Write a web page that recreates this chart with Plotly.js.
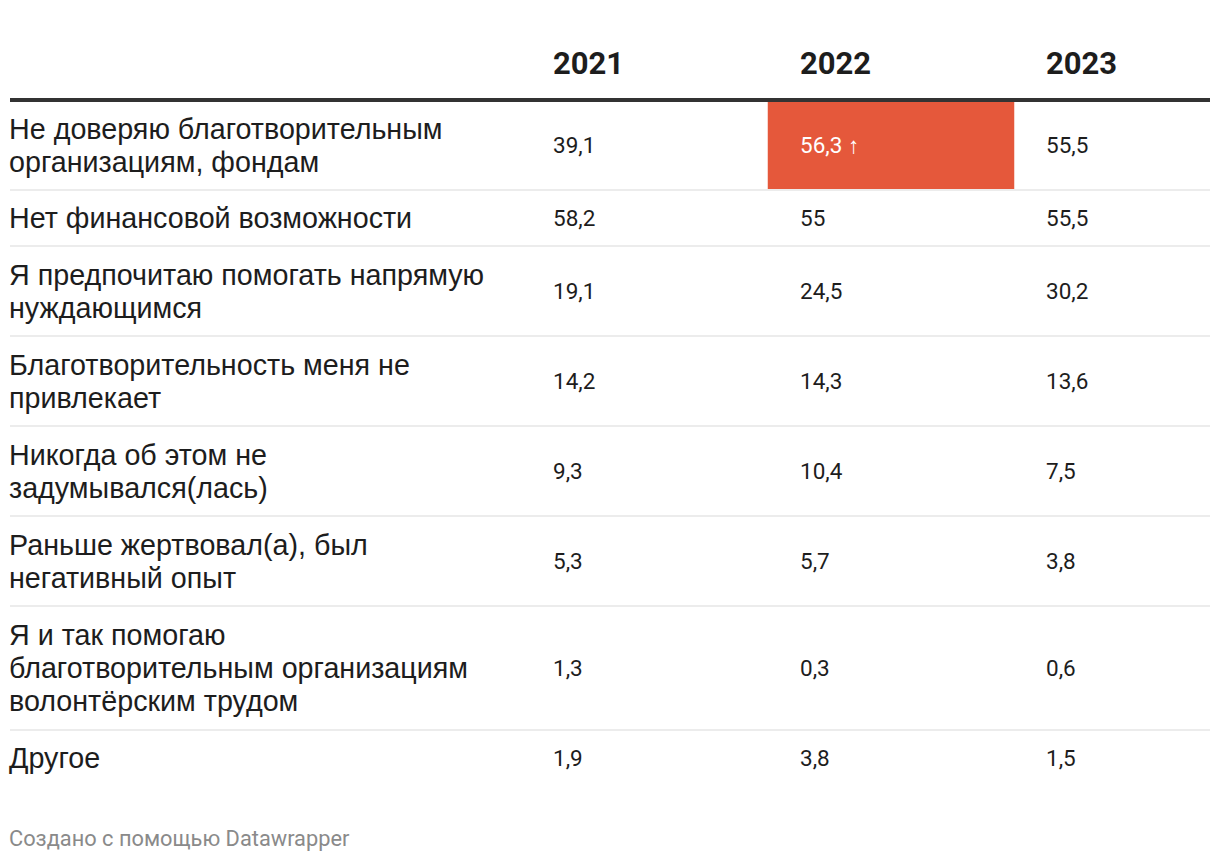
<!DOCTYPE html>
<html><head><meta charset="utf-8">
<script src="https://cdn.plot.ly/plotly-3.0.1.min.js"></script>
<style>html,body{margin:0;padding:0;background:#fff}#chart{width:1220px;height:862px}</style>
</head><body><div id="chart"></div>
<script>
// ---- data ----
const categories = [
  'Не доверяю благотворительным<br>организациям, фондам',
  'Нет финансовой возможности',
  'Я предпочитаю помогать напрямую<br>нуждающимся',
  'Благотворительность меня не<br>привлекает',
  'Никогда об этом не<br>задумывался(лась)',
  'Раньше жертвовал(а), был<br>негативный опыт',
  'Я и так помогаю<br>благотворительным организациям<br>волонтёрским трудом',
  'Другое'
];
const years = ['2021', '2022', '2023'];
const values2021 = [39.1, 58.2, 19.1, 14.2, 9.3, 5.3, 1.3, 1.9];
const values2022 = [56.3, 55, 24.5, 14.3, 10.4, 5.7, 0.3, 3.8];
const values2023 = [55.5, 55.5, 30.2, 13.6, 7.5, 3.8, 0.6, 1.5];
const highlightRow = 0;      // index in categories
const highlightYear = '2022';
const highlightMark = ' ↑';
const footerText = 'Создано с помощью Datawrapper';

// ---- layout helpers ----
const series = [values2021, values2022, values2023];
const LINE = 34, PAD = 22, TEXT_LINE = 33;
const rowHeights = categories.map(c => c.split('<br>').length * LINE + PAD);
const rowTops = [];
let acc = 0;
rowHeights.forEach(h => { rowTops.push(acc); acc += h; });
const total = acc;
const fmt = v => String(v).replace('.', ',');

const NUM_FONT = 'Roboto, "Noto Sans", sans-serif';
const LABEL_FONT = '"Liberation Sans", Arial, sans-serif';
const annotations = [];
const shapes = [];

// header
years.forEach((y, i) => {
  annotations.push({
    x: i + 1 - 0.5, y: -37, xref: 'x', yref: 'y', xanchor: 'left', yanchor: 'middle',
    xshift: 30, text: y, showarrow: false,
    font: {family: NUM_FONT, size: 31, color: '#1d1d1d', weight: 700}
  });
});

// rows
categories.forEach((c, r) => {
  const yc = rowTops[r] + rowHeights[r] / 2;
  const lines = c.split('<br>');
  lines.forEach((ln, k) => {
    annotations.push({
      x: 0, y: yc + (k - (lines.length - 1) / 2) * TEXT_LINE, xref: 'paper', yref: 'y',
      xanchor: 'left', yanchor: 'middle', align: 'left', xshift: -3,
      text: ln, showarrow: false,
      font: {family: LABEL_FONT, size: 28.7, color: '#1d1d1d'}
    });
  });
  series.forEach((s, i) => {
    const hl = (r === highlightRow && years[i] === highlightYear);
    annotations.push({
      x: i + 1 - 0.5, y: yc, xref: 'x', yref: 'y', xanchor: 'left', yanchor: 'middle',
      xshift: 30, text: fmt(s[r]) + (hl ? highlightMark : ''), showarrow: false,
      font: {family: NUM_FONT, size: 22.5, color: hl ? '#ffffff' : '#1d1d1d'}
    });
  });
  if (r > 0) {
    shapes.push({type: 'line', xref: 'paper', yref: 'y', x0: 0, x1: 1, y0: rowTops[r], y1: rowTops[r],
      line: {color: '#ececec', width: 2}});
  }
});

// thick header rule
shapes.push({type: 'line', xref: 'paper', yref: 'y', x0: 0, x1: 1, y0: 0, y1: 0,
  line: {color: '#333333', width: 4}});

// footer (below the plot area)
annotations.push({
  x: 0, y: 0, xref: 'paper', yref: 'paper', xanchor: 'left', yanchor: 'middle', xshift: -3,
  yshift: -(838 - 786), text: footerText, showarrow: false,
  font: {family: NUM_FONT, size: 21.8, color: '#8a8a8a'}
});

// highlighted cell as a bar
const hc = years.indexOf(highlightYear) + 1;
const traces = [{
  type: 'bar', x: [hc], base: [rowTops[highlightRow]], y: [rowHeights[highlightRow]],
  width: [1], marker: {color: '#e5583b', line: {width: 0}}, hoverinfo: 'skip', showlegend: false
}];

const layout = {
  width: 1220, height: 862,
  margin: {l: 10, r: 10, t: 32, b: 76},
  paper_bgcolor: '#ffffff', plot_bgcolor: '#ffffff',
  xaxis: {range: [2 - 881 / 246.5, 2 - 881 / 246.5 + 1200 / 246.5], visible: false, fixedrange: true},
  yaxis: {range: [total, total - 754], visible: false, fixedrange: true},
  annotations: annotations, shapes: shapes, showlegend: false,
  font: {family: NUM_FONT}
};

Plotly.newPlot('chart', traces, layout, {displayModeBar: false, staticPlot: true});
</script>
</body></html>
